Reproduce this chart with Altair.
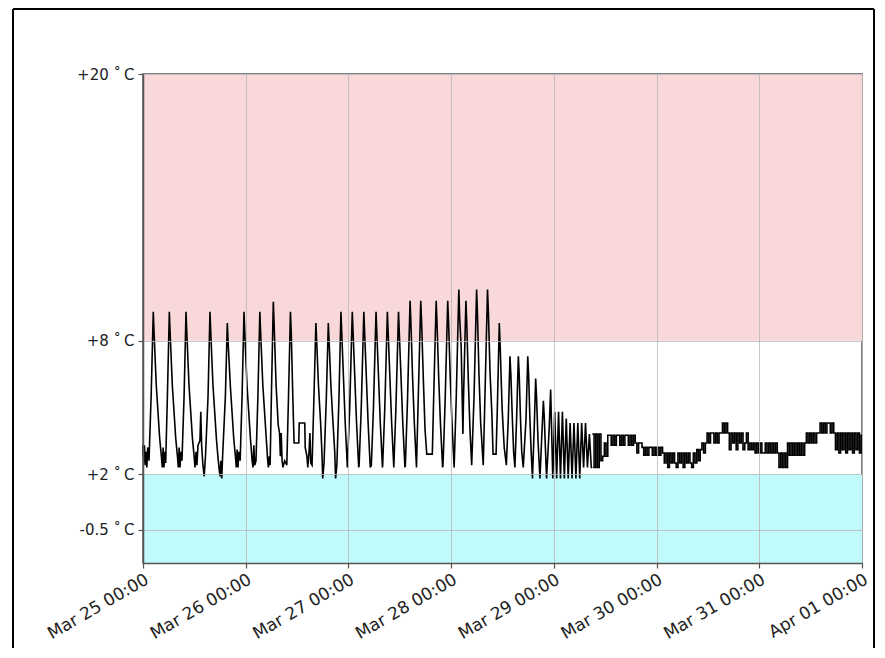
import altair as alt
import pandas as pd
from datetime import datetime, timedelta

BASE = datetime(2024, 3, 25)

# (hours since Mar 25 00:00, temperature °C)
cyc_day1 = [(0.0,3.3),(0.2,2.5),(0.35,3.3),(0.5,2.4),(0.7,3.0),(0.9,2.3),(1.1,3.2),(1.4,2.6),(1.9,5.5),(2.4,9.3),
            (2.6,8.3),(3.1,6.0),(3.6,4.5),(3.9,3.6),(4.3,2.8),(4.5,2.3),(4.7,3.2),(4.9,2.3),(5.1,3.0),(5.3,2.5),
            (5.7,5.5),(6.15,9.3),(6.35,8.3),(6.85,6.0),(7.35,4.5),(7.65,3.6),(8.05,2.8),(8.25,2.3),(8.45,3.2),(8.65,2.3),
            (8.85,3.0),(9.1,2.6),(9.6,5.5),(10.05,9.3),(10.25,8.3),(10.75,6.0),(11.25,4.5),(11.55,3.6),(11.95,2.8),(12.15,2.3),
            (12.4,3.0),(12.6,2.4),(12.85,3.3),(13.3,3.5),(13.5,4.8),(13.7,3.3),(14.0,2.4),(14.3,1.9),(14.6,2.8),(15.2,5.5),
            (15.65,9.3),(15.85,8.3),(16.35,6.0),(16.85,4.5),(17.15,3.6),(17.5,2.8),(17.8,2.2),(18.0,1.9),(18.2,2.6),(18.4,1.8),
            (18.6,2.8),(19.25,5.5),(19.7,8.8),(19.9,7.9),(20.4,6.0),(20.9,4.5),(21.2,3.6),(21.6,2.8),(21.8,2.3),(22.0,3.1),
            (22.2,2.3),(22.4,3.0),(22.7,2.6),(23.15,5.5)]
cyc_day2 = [(23.6,9.3),(23.8,8.3),(24.3,6.0),(24.8,4.5),(25.1,3.6),(25.5,2.6),(25.7,2.3),(25.9,3.3),(26.1,2.4),(26.4,2.6),
            (26.85,5.5),(27.3,9.3),(27.5,8.3),(28.0,6.0),(28.5,4.5),(28.8,3.6),(29.1,2.7),(29.3,2.3),(29.5,2.8),(29.7,2.4),
            (30.0,5.5),(30.45,9.75),(30.65,8.7),(31.1,6.0),(31.6,4.2),(31.9,3.85),(32.1,2.8),(32.3,3.85),(32.5,2.6),(32.7,2.3),
            (33.1,2.6),(33.6,2.4),(34.0,5.5),(34.45,9.3),(34.65,8.3),(35.0,5.5),(35.3,3.4),(36.4,3.4),(36.5,4.3),(37.8,4.3),
            (37.9,3.2),(38.3,2.8),(38.5,2.3),(38.8,3.0),(39.0,3.85),(39.2,2.5),(39.5,2.4),(39.95,5.5),(40.4,8.8),(40.6,7.9),
            (41.0,6.0),(41.5,4.3),(41.8,3.0),(42.0,1.8),(42.3,2.5),(42.85,5.5),(43.3,8.8),(43.5,7.9),(43.9,6.0),(44.4,4.3),
            (44.8,3.0),(45.0,1.8),(45.3,2.4),(45.8,5.5)]
cyc_day3 = [(46.25,9.3),(46.45,8.3),(46.85,6.3),(47.25,4.3),(47.75,2.3),(48.3,5.0),(48.9,9.3),(49.1,8.3),(49.5,6.3),(49.9,4.3),
            (50.4,2.3),(50.5,2.4),(51.0,5.0),(51.6,9.3),(51.8,8.3),(52.2,6.3),(52.6,4.3),(53.1,2.3),(53.35,2.4),(53.85,5.0),
            (54.45,9.3),(54.65,8.3),(55.05,6.3),(55.45,4.3),(55.95,2.3),(56.0,2.4),(56.5,5.0),(57.1,9.3),(57.3,8.3),(57.7,6.3),
            (58.1,4.3),(58.6,2.3),(59.1,5.0),(59.7,9.3),(59.9,8.3),(60.3,6.3),(60.7,4.3),(61.2,2.3),(61.3,2.4),(61.8,5.3),
            (62.4,9.8),(62.6,8.8),(63.0,6.3),(63.4,4.3),(63.9,2.3),(64.3,5.3),(64.9,9.8),(65.1,8.8),(65.5,6.3),(65.9,4.0),
            (66.3,2.9),(67.6,2.9),(67.9,5.3),(68.5,9.8),(68.7,8.8),(69.1,6.3),(69.5,4.3),(70.0,2.3),(70.1,2.4),(70.6,5.3)]
cyc_day4 = [(71.2,9.8),(71.4,8.8),(71.8,6.3),(72.2,4.3),(72.7,2.3),(73.2,5.5),(73.8,10.3),(74.0,9.0),(74.35,7.7),(74.75,3.8),
            (74.9,5.5),(75.45,9.8),(75.65,8.8),(76.0,6.3),(76.4,4.0),(76.8,2.4),(77.35,5.5),(77.95,10.3),(78.15,9.2),(78.5,6.5),
            (78.9,4.3),(79.5,2.4),(79.9,5.5),(80.5,10.3),(80.7,9.3),(81.1,6.5),(81.5,4.8),(81.8,2.9),(82.5,2.9),(82.8,5.0),
            (83.25,8.8),(83.45,7.8),(83.9,5.0),(84.4,3.2),(84.9,2.4),(85.35,4.5),(85.75,7.3),(85.95,6.5),(86.3,4.5),(86.6,3.0),
            (86.9,2.3),(87.3,4.5),(87.7,7.3),(87.9,6.5),(88.2,4.5),(88.5,3.0),(88.85,2.3),(89.5,4.5),(89.9,7.3),(90.1,6.5),
            (90.4,4.5),(90.7,3.0),(91.0,1.8),(91.4,4.0),(91.75,6.3),(91.95,5.5),(92.3,3.5),(92.75,1.8),(93.2,3.8),(93.55,5.3),
            (93.75,4.6),(94.0,3.3),(94.3,1.8),(94.9,4.0),(95.25,5.8),(95.75,1.8),(96.2,4.8),(96.65,1.8),(97.1,4.8),(97.55,1.8),
            (98.0,4.8),(98.45,1.8),(98.9,4.5),(99.35,1.8),(99.8,4.3),(100.25,1.8),(100.7,4.3),(101.15,1.8),(101.6,4.3),(102.05,1.8),
            (102.5,4.3),(102.95,2.3),(103.4,4.3),(103.85,2.3),(104.3,3.8),(104.75,2.3),(105.0,2.3)]

# quantised, slowly drifting part (regular samples from Mar 29 09:00)
steady_start_h = 105.0
steady_step_h = 0.4
steady_vals = [3.8,2.3,3.8,2.3,3.8,2.6,
               2.8,3.4,2.8,
               3.75,3.75,3.3,3.75,3.3,3.75,3.75,3.3,3.75,3.3,3.75,3.75,3.3,3.75,3.3,3.75,
               3.4,2.95,3.4,3.4,
               3.2,2.85,3.2,2.85,3.2,3.2,2.85,3.2,2.85,3.2,2.85,3.2,
               2.95,2.5,2.95,2.3,2.95,2.5,2.95,2.5,2.3,2.95,2.5,2.95,2.3,2.95,2.5,2.95,2.5,2.3,2.95,2.5,3.1,2.6,
               3.1,3.4,2.95,3.4,
               3.85,3.4,3.85,3.85,3.4,3.85,3.4,3.85,3.85,
               4.3,3.85,4.3,
               3.85,3.1,3.85,3.4,3.85,3.1,3.85,3.4,3.85,3.1,3.4,3.85,3.1,3.4,3.1,
               3.4,2.95,3.4,2.95,3.4,2.95,2.95,3.4,2.95,3.4,2.95,3.4,2.95,3.4,2.95,
               2.3,2.95,2.3,2.95,2.3,
               3.4,2.85,3.4,2.85,3.4,2.85,3.4,2.85,3.4,2.85,3.4,
               3.85,3.4,3.85,3.4,3.85,3.4,3.85,3.85,
               4.3,3.85,4.3,3.85,4.3,4.3,3.85,4.3,
               3.85,3.1,3.85,2.95,3.85,3.1,3.85,2.95,3.85,3.1,3.85,2.95,3.85,3.1,3.85,2.95,3.75]

y_ticks = [-0.5, 2, 8, 20]
y_labels = ["-0.5 \u02da\u2009C", "+2 \u02da\u2009C", "+8 \u02da\u2009C", "+20 \u02da\u2009C"]
n_days = 8

band_lo = [8, -2]
band_hi = [20, 2]
band_col = ["#f8d8d9", "#c1fafa"]

W, H = 719, 489

cyc = cyc_day1 + cyc_day2 + cyc_day3 + cyc_day4
df_cyc = pd.DataFrame({"t": [BASE + timedelta(hours=h) for h, _ in cyc],
                       "v": [v for _, v in cyc]})
st_t = [BASE + timedelta(hours=steady_start_h + i * steady_step_h) for i in range(len(steady_vals))]
st_t.append(BASE + timedelta(days=7))
df_st = pd.DataFrame({"t": st_t, "v": steady_vals + [steady_vals[-1]]})
df_band = pd.DataFrame({"lo": band_lo, "hi": band_hi, "c": band_col})

x_vals = []
for i in range(n_days):
    d = BASE + timedelta(days=i)
    x_vals.append(alt.DateTime(year=d.year, month=d.month, date=d.day, hours=0))

label_expr = ""
for val, lab in zip(y_ticks, y_labels):
    label_expr += f"datum.value == {val} ? '{lab}' : "
label_expr += "''"

x_scale = alt.Scale(domain=[alt.DateTime(year=2024, month=3, date=25),
                            alt.DateTime(year=2024, month=4, date=1)], nice=False)
y_scale = alt.Scale(domain=[-2, 20], nice=False, zero=False)

x_axis = alt.Axis(values=x_vals, format="%b %d %H:%M", labelAngle=-30, labelAlign="right",
                  labelBaseline="top", title=None, grid=True, zindex=1, labelPadding=3,
                  labelFontSize=17, labelOverlap=False, labelFlush=False, labelBound=False)
y_axis = alt.Axis(values=y_ticks, labelExpr=label_expr, title=None, grid=True, zindex=1, labelPadding=4,
                  labelFontSize=15, labelOverlap=False)

bands = alt.Chart(df_band).mark_rect().encode(
    x=alt.value(0), x2=alt.value(W),
    y=alt.Y("hi:Q", scale=y_scale, axis=y_axis), y2="lo:Q",
    color=alt.Color("c:N", scale=None),
)

line_c = alt.Chart(df_cyc).mark_line(color="black", strokeWidth=1.6).encode(
    x=alt.X("t:T", scale=x_scale, axis=x_axis),
    y=alt.Y("v:Q", scale=y_scale),
)
line_s = alt.Chart(df_st).mark_line(color="black", strokeWidth=1.6, interpolate="step-after").encode(
    x=alt.X("t:T", scale=x_scale),
    y=alt.Y("v:Q", scale=y_scale),
)

b_left = alt.Chart().mark_rule(color="black", strokeWidth=2).encode(
    x=alt.value(-130), y=alt.value(-65), y2=alt.value(640))
b_top = alt.Chart().mark_rule(color="black", strokeWidth=2).encode(
    x=alt.value(-130), x2=alt.value(731), y=alt.value(-65))
b_right = alt.Chart().mark_rule(color="black", strokeWidth=2).encode(
    x=alt.value(731), y=alt.value(-65), y2=alt.value(640))

chart = alt.layer(bands, line_c, line_s, b_left, b_top, b_right).properties(
    width=W, height=H,
    autosize=alt.AutoSizeParams(type="none"),
    padding={"left": 135, "top": 66, "right": 15, "bottom": 85},
).configure_axis(
    labelFont="DejaVu Sans", labelColor="#222",
    gridColor="#b8b8b8", gridWidth=0.8, domainColor="#555", domainWidth=1.5,
    tickColor="#555", tickSize=5, tickWidth=1.2,
).configure_view(stroke="#555", strokeWidth=1.5)

chart.save("out.html", embed_options={"renderer": "svg", "actions": False})
